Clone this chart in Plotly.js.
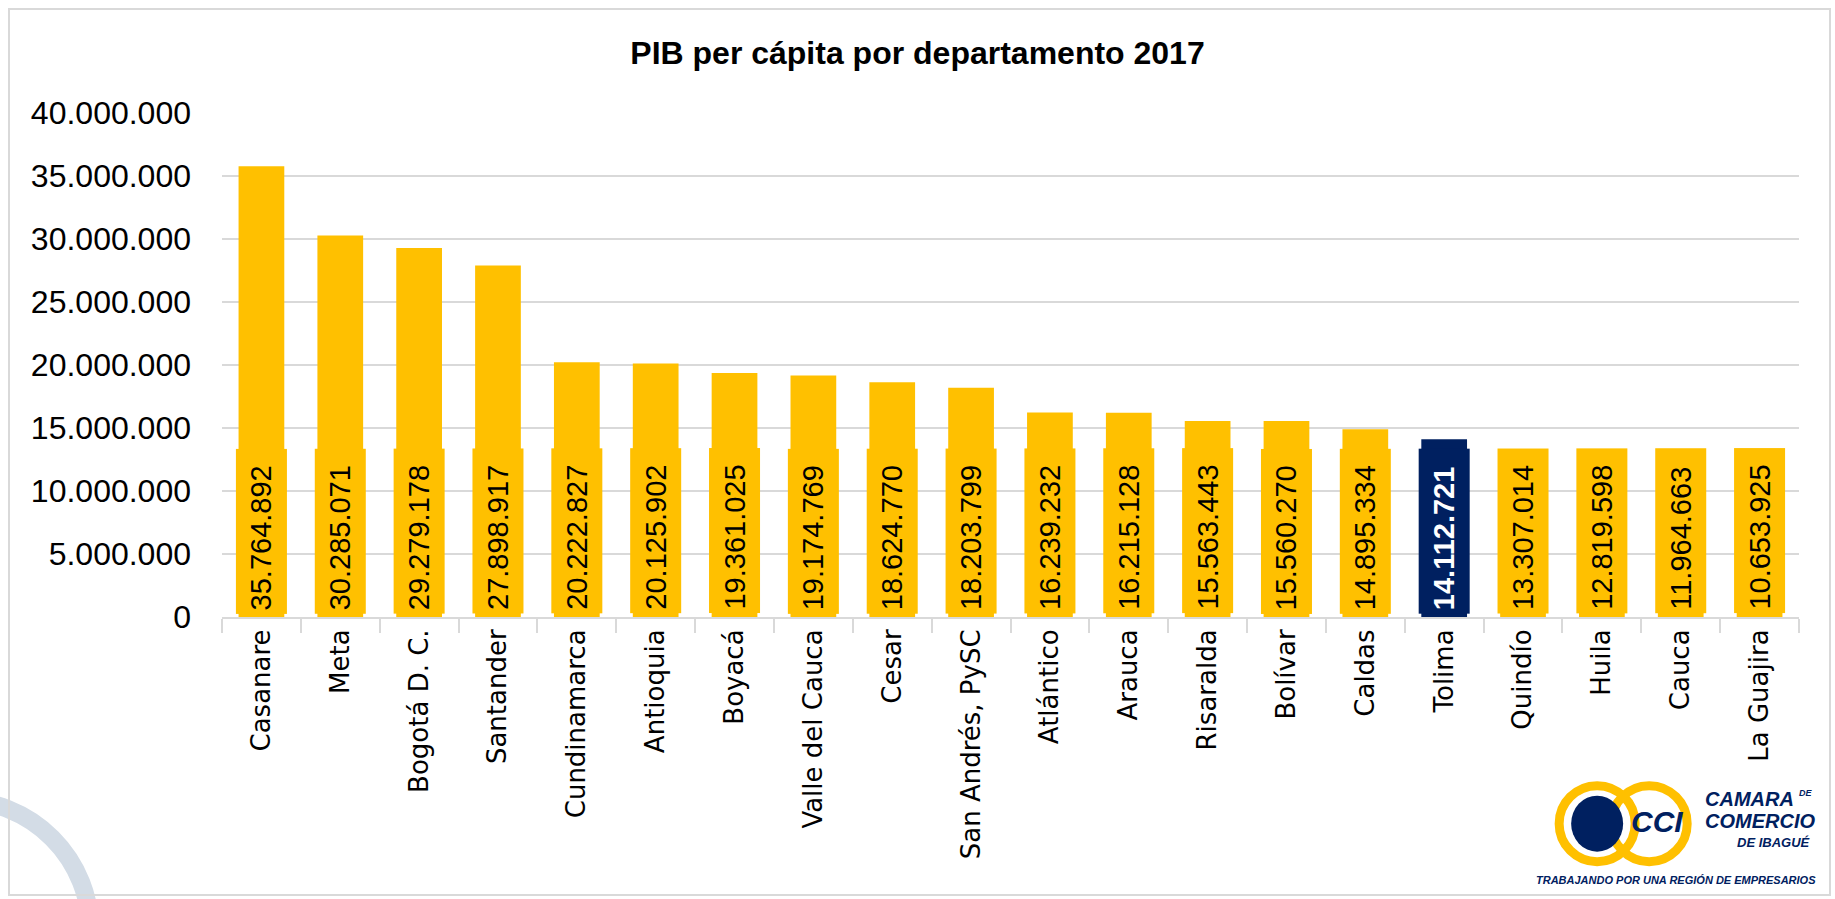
<!DOCTYPE html>
<html>
<head>
<meta charset="utf-8">
<script src="https://cdn.plot.ly/plotly-3.0.1.min.js"></script>
<style>
  body { margin: 0; background: #fff; }
  #marco { position: absolute; left: 8px; top: 8px; width: 1819px; height: 884px; border: 2px solid #d9d9d9; pointer-events: none; }
</style>
</head>
<body>
<div id="grafico" style="width:1835px;height:899px;"></div>
<div id="marco"></div>
<script>
var departamentos = ["Casanare", "Meta", "Bogotá D. C.", "Santander", "Cundinamarca", "Antioquia",
  "Boyacá", "Valle del Cauca", "Cesar", "San Andrés, PySC", "Atlántico", "Arauca", "Risaralda",
  "Bolívar", "Caldas", "Tolima", "Quindío", "Huila", "Cauca", "La Guajira"];
var pibPerCapita = [35764892, 30285071, 29279178, 27898917, 20222827, 20125902,
  19361025, 19174769, 18624770, 18203799, 16239232, 16215128, 15563443,
  15560270, 14895334, 14112721, 13307014, 12819598, 11964663, 10653925];
var destacado = "Tolima";

var dorado = '#FFC000';
var azul = '#002060';

function miles(v) {
  return String(v).replace(/\B(?=(\d{3})+(?!\d))/g, '.');
}

var colores = departamentos.map(function (d) { return d === destacado ? azul : dorado; });

var trace = {
  x: departamentos,
  y: pibPerCapita,
  type: 'bar',
  marker: {color: colores},
  hoverinfo: 'x+y'
};

// etiquetas de valor: cajas giradas al pie de cada barra
var etiquetas = departamentos.map(function (d, i) {
  var esDestacado = d === destacado;
  return {
    x: d, y: 0, xref: 'x', yref: 'y',
    text: esDestacado ? '<b>' + miles(pibPerCapita[i]) + '</b>' : miles(pibPerCapita[i]),
    showarrow: false,
    textangle: -90,
    yanchor: 'bottom',
    yshift: 3,
    width: 158, height: 44,
    align: 'left',
    borderpad: 3,
    bgcolor: esDestacado ? azul : dorado,
    font: {family: 'Liberation Sans, Arial, sans-serif', size: 29, color: esDestacado ? '#fff' : '#000'}
  };
});

// logo (aproximado)
var fuenteLogo = 'Liberation Sans, Arial, sans-serif';
var logo = [
  {xref: 'paper', yref: 'paper', x: 0.877, y: -0.405, xanchor: 'center', yanchor: 'middle', showarrow: false,
   text: '<b><i>CCI</i></b>', font: {family: fuenteLogo, size: 30, color: azul}, xshift: 52},
  {xref: 'paper', yref: 'paper', x: 0.939, y: -0.362, xanchor: 'left', yanchor: 'middle', showarrow: false,
   text: '<b><i>CAMARA</i></b>', font: {family: fuenteLogo, size: 20, color: azul}},
  {xref: 'paper', yref: 'paper', x: 0.999, y: -0.35, xanchor: 'left', yanchor: 'middle', showarrow: false,
   text: '<b><i>DE</i></b>', font: {family: fuenteLogo, size: 9, color: azul}},
  {xref: 'paper', yref: 'paper', x: 0.939, y: -0.405, xanchor: 'left', yanchor: 'middle', showarrow: false,
   text: '<b><i>COMERCIO</i></b>', font: {family: fuenteLogo, size: 20, color: azul}},
  {xref: 'paper', yref: 'paper', x: 1.008, y: -0.447, xanchor: 'right', yanchor: 'middle', showarrow: false,
   text: '<b><i>DE IBAGUÉ</i></b>', font: {family: fuenteLogo, size: 13, color: azul}},
  {xref: 'paper', yref: 'paper', x: 1.012, y: -0.522, xanchor: 'right', yanchor: 'middle', showarrow: false,
   text: '<b><i>TRABAJANDO POR UNA REGIÓN DE EMPRESARIOS</i></b>',
   font: {family: fuenteLogo, size: 11, color: azul}}
];

var formas = [
  {type: 'circle', xref: 'paper', yref: 'paper', xsizemode: 'pixel', ysizemode: 'pixel',
   xanchor: 0.872, yanchor: -0.41, x0: -38, x1: 38, y0: -38, y1: 38,
   line: {color: dorado, width: 9}},
  {type: 'circle', xref: 'paper', yref: 'paper', xsizemode: 'pixel', ysizemode: 'pixel',
   xanchor: 0.905, yanchor: -0.41, x0: -38, x1: 38, y0: -38, y1: 38,
   line: {color: dorado, width: 9}},
  {type: 'circle', xref: 'paper', yref: 'paper', xsizemode: 'pixel', ysizemode: 'pixel',
   xanchor: 0.872, yanchor: -0.41, x0: -26, x1: 26, y0: -28, y1: 28,
   fillcolor: azul, line: {width: 0}},
  // marca de agua abajo a la izquierda
  {type: 'circle', xref: 'paper', yref: 'paper', xsizemode: 'pixel', ysizemode: 'pixel',
   xanchor: -0.166, yanchor: -0.621, x0: -130, x1: 130, y0: -130, y1: 130,
   line: {color: '#d3dce6', width: 18}, layer: 'below'}
];

var layout = {
  width: 1835,
  height: 899,
  margin: {l: 222, r: 36, t: 113, b: 282},
  paper_bgcolor: 'rgba(0,0,0,0)',
  plot_bgcolor: '#fff',
  separators: ',.',
  showlegend: false,
  bargap: 0.42,
  title: {
    text: '<b>PIB per cápita por departamento 2017</b>',
    x: 0.5, xref: 'container', xanchor: 'center',
    y: 0.941, yref: 'container', yanchor: 'middle',
    font: {family: 'Liberation Sans, Arial, sans-serif', size: 32, color: '#000'}
  },
  xaxis: {
    type: 'category',
    tickangle: -90,
    tickfont: {family: 'DejaVu Sans, Verdana, sans-serif', size: 26, color: '#000'},
    ticks: 'outside', tickson: 'boundaries', ticklen: 14, tickcolor: '#d9d9d9', tickwidth: 2,
    showline: true, linecolor: '#d9d9d9', linewidth: 2,
    showgrid: false
  },
  yaxis: {
    range: [0, 40000000],
    dtick: 5000000,
    tickformat: ',d',
    tickfont: {family: 'Liberation Sans, Arial, sans-serif', size: 32, color: '#000'},
    ticklabelstandoff: 30,
    gridcolor: '#d9d9d9', gridwidth: 2,
    zeroline: false
  },
  annotations: etiquetas.concat(logo),
  shapes: formas
};

Plotly.newPlot('grafico', [trace], layout, {displayModeBar: false});
</script>
</body>
</html>
